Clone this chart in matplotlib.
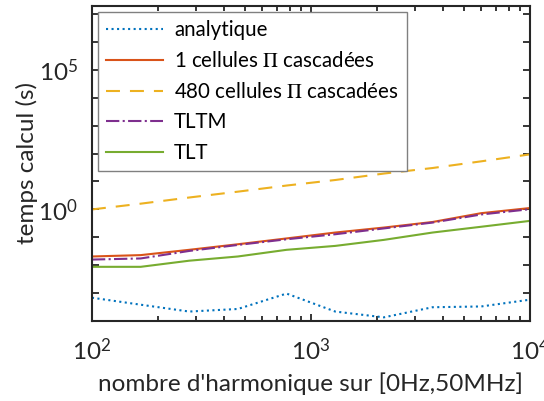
import numpy as np
import matplotlib
matplotlib.use('Agg')
import matplotlib.pyplot as plt
from matplotlib.ticker import LogLocator, FixedLocator, FuncFormatter, NullFormatter

plt.rcParams['font.family'] = ['Lato', 'DejaVu Sans']
plt.rcParams['mathtext.fontset'] = 'stix'

# nombre d'harmoniques
harmoniques = [100, 167, 278, 464, 774, 1292, 2154, 3594, 5995, 10000]

# temps de calcul (s)
t_analytique = [6.6e-4, 3.7e-4, 2.1e-4, 2.6e-4, 9.3e-4, 2.1e-4, 1.3e-4, 3.0e-4, 3.2e-4, 5.6e-4]
t_1cellule = [0.020, 0.0224, 0.0347, 0.055, 0.089, 0.145, 0.219, 0.347, 0.72, 1.10]
t_480cellules = [0.98, 1.58, 2.63, 4.27, 7.08, 11.2, 19.1, 30.2, 52.5, 93.3]
t_tltm = [0.0155, 0.017, 0.0316, 0.052, 0.083, 0.126, 0.204, 0.331, 0.646, 1.0]
t_tlt = [0.0085, 0.0085, 0.0141, 0.020, 0.0347, 0.048, 0.079, 0.145, 0.234, 0.38]

fig = plt.figure(figsize=(5.44, 4.01), dpi=100)
ax = fig.add_axes([0.169, 0.2007, 0.805, 0.7843])

ax.loglog(harmoniques, t_analytique, ':', color='#0072BD', lw=1.5, label='analytique')
ax.loglog(harmoniques, t_1cellule, '-', color='#D95319', lw=1.5, label=r'1 cellules $\Pi$ cascadées')
ax.loglog(harmoniques, t_480cellules, '--', color='#EDB120', lw=1.5, dashes=(6.7, 4.8),
          label=r'480 cellules $\Pi$ cascadées')
ax.loglog(harmoniques, t_tltm, '-.', color='#7E2F8E', lw=1.5, label='TLTM')
ax.loglog(harmoniques, t_tlt, '-', color='#77AC30', lw=1.5, label='TLT')

ax.set_xlim(1e2, 1e4)
ax.set_ylim(1e-4, 2e7)

def puissance(v, pos):
    return r'$\mathregular{10^{%d}}$' % int(round(np.log10(v)))

ax.xaxis.set_major_locator(FixedLocator([1e2, 1e3, 1e4]))
ax.xaxis.set_major_formatter(FuncFormatter(puissance))
ax.xaxis.set_minor_locator(LogLocator(base=10, subs=np.arange(2, 10)))
ax.xaxis.set_minor_formatter(NullFormatter())
ax.yaxis.set_major_locator(FixedLocator([1e0, 1e5]))
ax.yaxis.set_major_formatter(FuncFormatter(puissance))
ax.yaxis.set_minor_locator(FixedLocator([10.0 ** k for k in range(-3, 8) if k not in (0, 5)]))
ax.yaxis.set_minor_formatter(NullFormatter())

ax.tick_params(which='both', direction='in', top=True, right=True, width=1.3,
               labelsize=17.5, colors='#262626')
ax.tick_params(which='major', length=5)
ax.tick_params(axis='x', which='major', pad=12)
ax.tick_params(axis='y', which='major', pad=10)
ax.tick_params(which='minor', length=3.5)
ax.tick_params(axis='y', which='minor', length=5)
for s in ax.spines.values():
    s.set_linewidth(1.5)
    s.set_color('#262626')

ax.set_xlabel("nombre d'harmonique sur [0Hz,50MHz]", fontsize=17.5, color='#262626', labelpad=6)
ax.set_ylabel('temps calcul (s)', fontsize=17.5, color='#262626', labelpad=0)

leg = ax.legend(loc='upper left', fontsize=14.8, handlelength=2.75, handletextpad=0.55,
                borderpad=0.4, labelspacing=0.52, borderaxespad=0.3, fancybox=False,
                framealpha=1)
leg.get_frame().set_edgecolor('#808080')
leg.get_frame().set_linewidth(1.0)

fig.savefig('out.png', dpi=100)
